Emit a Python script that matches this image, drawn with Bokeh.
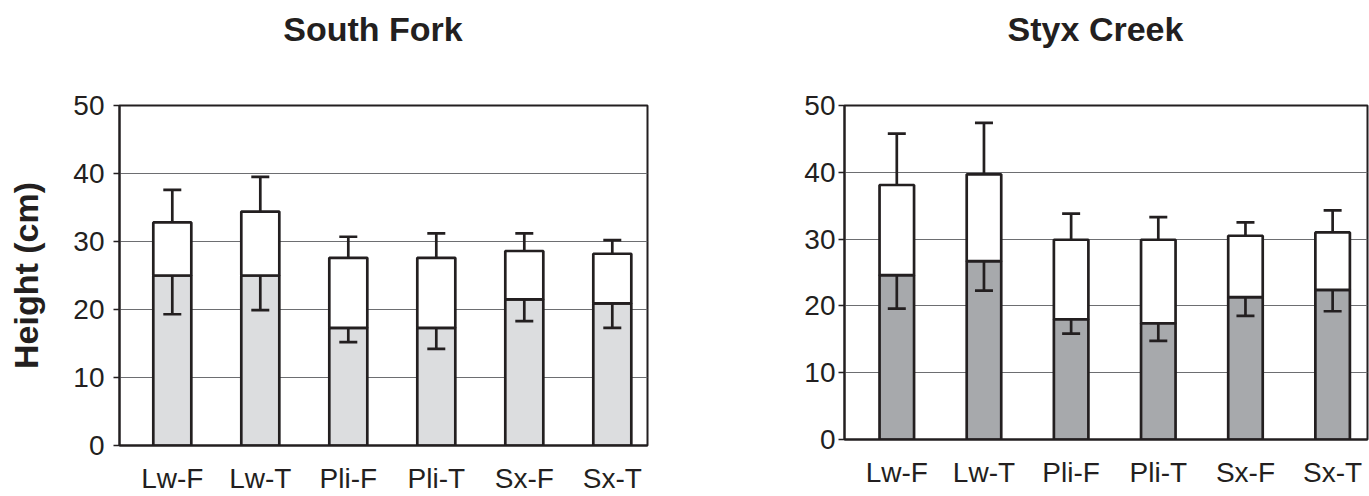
from bokeh.plotting import figure
from bokeh.layouts import row, column
from bokeh.models import ColumnDataSource, FixedTicker, Whisker, TeeHead, Range1d
from bokeh.core.properties import value
from bokeh.embed import file_html
from bokeh.resources import INLINE

categories = ["Lw-F", "Lw-T", "Pli-F", "Pli-T", "Sx-F", "Sx-T"]

# South Fork
sf_initial = [25.0, 25.0, 17.3, 17.3, 21.5, 20.9]
sf_final = [32.8, 34.4, 27.6, 27.6, 28.6, 28.2]
sf_final_err = [4.8, 5.1, 3.1, 3.6, 2.6, 2.0]
sf_initial_err = [5.7, 5.1, 2.1, 3.1, 3.2, 3.6]

# Styx Creek
sc_initial = [24.6, 26.7, 18.0, 17.4, 21.3, 22.4]
sc_final = [38.1, 39.7, 29.9, 29.9, 30.5, 31.0]
sc_final_err = [7.7, 7.7, 3.9, 3.4, 2.0, 3.3]
sc_initial_err = [5.0, 4.4, 2.15, 2.65, 2.8, 3.2]

y_ticks = [0, 10, 20, 30, 40, 50]

DARK = "#231f20"
FONT = "Liberation Sans"
TITLE_H = 80
PLOT_TOP = 25


def make_title(text, width, frame_w, center_x):
    # the column gives this figure the same side borders as the plot below it,
    # so its frame spans the plot frame; x is measured from the frame's left edge
    t = figure(width=width, height=TITLE_H, output_backend="svg", toolbar_location=None,
               x_range=Range1d(0, frame_w), y_range=Range1d(0, TITLE_H),
               x_axis_location=None, y_axis_location=None,
               min_border=0)
    t.grid.visible = False
    t.outline_line_color = None
    t.text(x=[center_x], y=[TITLE_H - 28], text=[text], text_font=value(FONT),
           text_font_size="34px", text_font_style="bold", text_color=DARK,
           text_align="center", text_baseline="alphabetic")
    return t


def make_panel(initial, final, final_err, initial_err, fill, bar_w,
               width, border_left, border_right, frame_h, border_bottom,
               ylabel=None, tick_standoff=9):
    xs = list(range(1, len(categories) + 1))
    src = ColumnDataSource(dict(
        x=xs, initial=initial, final=final,
        up=[f + e for f, e in zip(final, final_err)],
        lo=[i - e for i, e in zip(initial, initial_err)],
    ))
    height = PLOT_TOP + frame_h + border_bottom
    p = figure(width=width, height=height, output_backend="svg", toolbar_location=None,
               x_range=Range1d(0.4, 6.4), y_range=Range1d(0, 50),
               min_border_left=border_left, min_border_right=border_right,
               min_border_top=PLOT_TOP, min_border_bottom=border_bottom)
    p.outline_line_color = DARK
    p.outline_line_width = 2
    p.xgrid.visible = False
    p.ygrid.ticker = FixedTicker(ticks=y_ticks)
    p.ygrid.grid_line_color = "#6d6e71"
    p.ygrid.grid_line_width = 1

    p.vbar(x="x", bottom=0, top="initial", width=bar_w, source=src,
           fill_color=fill, line_color=DARK, line_width=2.7)
    p.vbar(x="x", bottom="initial", top="final", width=bar_w, source=src,
           fill_color="white", line_color=DARK, line_width=2.7)

    w_up = Whisker(base="x", lower="final", upper="up", source=src,
                   line_color=DARK, line_width=2.7, level="overlay",
                   upper_head=TeeHead(size=18, line_color=DARK, line_width=2.7),
                   lower_head=None)
    w_lo = Whisker(base="x", lower="lo", upper="initial", source=src,
                   line_color=DARK, line_width=2.7, level="overlay",
                   lower_head=TeeHead(size=18, line_color=DARK, line_width=2.7),
                   upper_head=None)
    p.add_layout(w_up)
    p.add_layout(w_lo)

    ya = p.yaxis[0]
    ya.ticker = FixedTicker(ticks=y_ticks)
    ya.axis_line_color = DARK
    ya.axis_line_width = 2
    ya.major_tick_line_color = DARK
    ya.major_tick_line_width = 1.5
    ya.major_tick_out = 6
    ya.major_tick_in = 0
    ya.minor_tick_line_color = None
    ya.major_label_text_font = FONT
    ya.major_label_text_font_size = "28px"
    ya.major_label_text_color = DARK
    ya.major_label_standoff = tick_standoff
    if ylabel:
        ya.axis_label = ylabel
        ya.axis_label_text_font = FONT
        ya.axis_label_text_font_size = "34px"
        ya.axis_label_text_font_style = "bold"
        ya.axis_label_text_color = DARK
        ya.axis_label_standoff = 25

    xa = p.xaxis[0]
    xa.ticker = FixedTicker(ticks=xs)
    xa.major_label_overrides = {i: c for i, c in zip(xs, categories)}
    xa.axis_line_color = DARK
    xa.axis_line_width = 2
    xa.major_tick_line_color = None
    xa.minor_tick_line_color = None
    xa.major_tick_out = 0
    xa.major_tick_in = 0
    xa.major_label_text_font = FONT
    xa.major_label_text_font_size = "28px"
    xa.major_label_text_color = DARK
    xa.major_label_standoff = 17
    return p


# left panel frame: x 119..647 ; right panel frame: x 844..1367 (page pixels)
t1 = make_title("South Fork", 700, 528, 372.5 - 119)
p1 = make_panel(sf_initial, sf_final, sf_final_err, sf_initial_err,
                "#dcdddf", 0.432, 700, 119, 53, 342, 49,
                ylabel="Height (cm)", tick_standoff=9)
t2 = make_title("Styx Creek", 669, 523, 1095 - 844)
p2 = make_panel(sc_initial, sc_final, sc_final_err, sc_initial_err,
                "#a7a9ac", 0.396, 669, 144, 2, 334, 57,
                tick_standoff=3)

layout = row(column(t1, p1), column(t2, p2))
open("out.html", "w").write(file_html(layout, INLINE))
